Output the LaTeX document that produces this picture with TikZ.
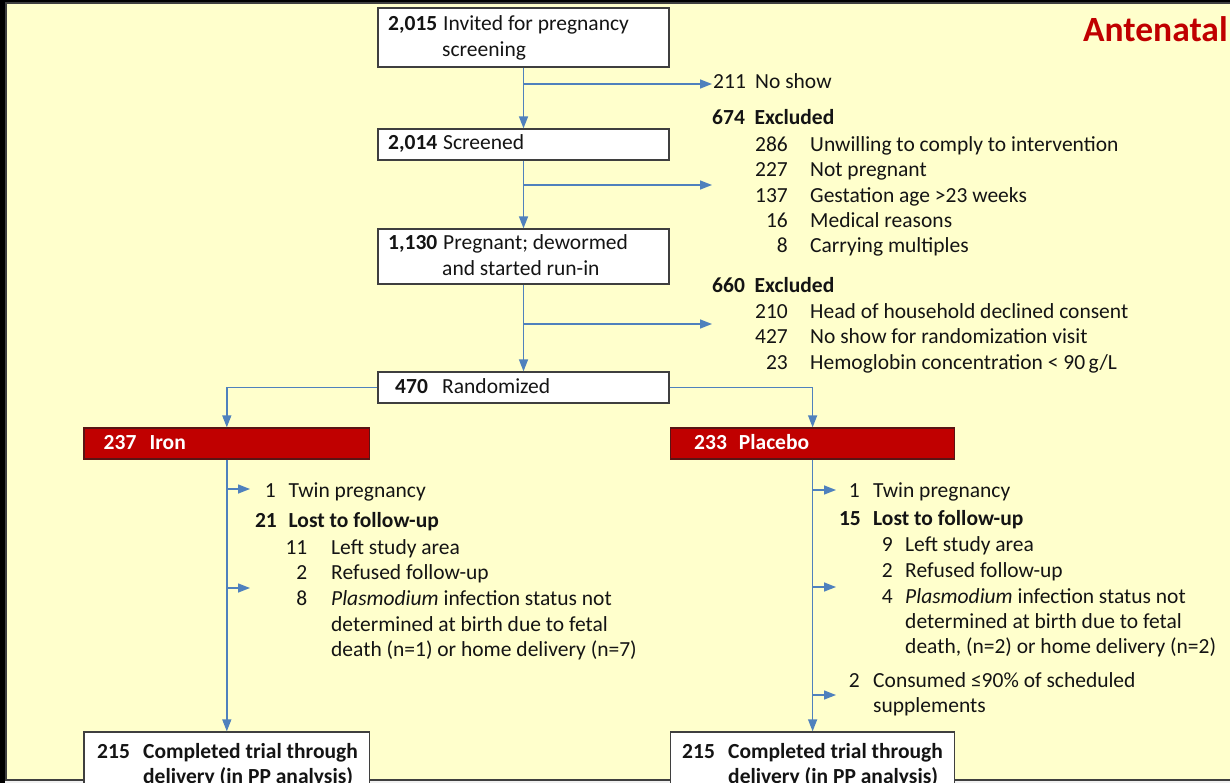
\documentclass[tikz,border=0pt]{standalone}
\usepackage{fontspec}
\setmainfont{Carlito}
\usetikzlibrary{arrows.meta}
\definecolor{panel}{HTML}{FFFFCC}
\definecolor{framecol}{HTML}{3F3F3F}
\definecolor{arrblue}{HTML}{4F81BD}
\definecolor{darkred}{HTML}{C00000}
\definecolor{redframe}{HTML}{5A1414}
\definecolor{txtcol}{HTML}{141414}
\begin{document}
\begin{tikzpicture}[x=1pt,y=-1pt,
  arr/.style={draw=arrblue, line width=1.4pt, -{Triangle[length=12pt,width=9pt]}},
  wbox/.style={draw=framecol, line width=1.3pt, fill=white, inner sep=0pt},
  rbox/.style={draw=redframe, line width=1.3pt, fill=darkred, inner sep=0pt},
  txt/.style={inner sep=0pt, anchor=base west, text=txtcol, font=\fontsize{21.5}{25.6}\selectfont},
  txtr/.style={txt, anchor=base east},
  wtxt/.style={txt, text=white, font=\fontsize{21.5}{25.6}\selectfont\bfseries},
  ]
\useasboundingbox (0,0) rectangle (1230,783);
\clip (0,0) rectangle (1230,783);
% panel background
\fill[gray!12] (0,0) rectangle (1230,783);
\fill[black] (0,0) rectangle (1230,2);
\fill[black] (0,0) rectangle (5,783);
\draw[framecol, line width=2pt, fill=panel] (6,3) rectangle (1240,780);

% title
\node[txt, text=darkred, font=\fontsize{35.5}{40}\selectfont\bfseries] (title) at (1083,42) {Antenatal};

% main column boxes
\node[wbox, minimum width=291pt, minimum height=59pt] (b1) at (523.5,37.5) {};
\node[wbox, minimum width=291pt, minimum height=31pt] (b2) at (523.5,144.5) {};
\node[wbox, minimum width=291pt, minimum height=55pt] (b3) at (523.5,256.5) {};
\node[wbox, minimum width=291pt, minimum height=31pt] (b4) at (523.5,387.5) {};
\node[rbox, minimum width=285.6pt, minimum height=31pt] (iron) at (226.8,443.5) {};
\node[rbox, minimum width=284pt, minimum height=31pt] (plac) at (812.6,443.5) {};
\node[wbox, minimum width=285.6pt, minimum height=80pt] (endI) at (226.8,772) {};
\node[wbox, minimum width=284pt, minimum height=80pt] (endP) at (812.6,772) {};

% main arrows
\draw[arr] (b1) -- (b2);
\draw[arr] (b2) -- (b3);
\draw[arr] (b3) -- (b4);
\draw[arr] (b4.west) -| (iron.north);
\draw[arr] (b4.east) -| (plac.north);
\draw[arr] (iron) -- (endI);
\draw[arr] (plac) -- (endP);

% branch arrows
\coordinate (s1) at (523.5,84);  \coordinate (e1) at (712,84);
\coordinate (s2) at (523.5,185); \coordinate (e2) at (712,185);
\coordinate (s3) at (523.5,324); \coordinate (e3) at (712,324);
\draw[arr] (s1) -- (e1);
\draw[arr] (s2) -- (e2);
\draw[arr] (s3) -- (e3);
\coordinate (i1) at (226.8,489); \coordinate (ie1) at (250,489);
\coordinate (i2) at (226.8,588); \coordinate (ie2) at (250,588);
\draw[arr] (i1) -- (ie1);
\draw[arr] (i2) -- (ie2);
\coordinate (p1) at (812.6,490); \coordinate (pe1) at (836,490);
\coordinate (p2) at (812.6,587); \coordinate (pe2) at (836,587);
\coordinate (p3) at (812.6,695); \coordinate (pe3) at (836,695);
\draw[arr] (p1) -- (pe1);
\draw[arr] (p2) -- (pe2);
\draw[arr] (p3) -- (pe3);

% box texts
\node[txt] (n1) at (388,31) {\bfseries 2,015};
\node[txt] (n1a) at (443,31) {Invited for pregnancy};
\node[txt] (n1b) at (442,57) {screening};
\node[txt] (n2) at (388,150) {\bfseries 2,014};
\node[txt] (n2a) at (443,150) {Screened};
\node[txt] (n3) at (388,250) {\bfseries 1,130};
\node[txt] (n3a) at (443,250) {Pregnant; dewormed};
\node[txt] (n3b) at (442,276) {and started run-in};
\node[txt] (n4) at (395,393) {\bfseries 470};
\node[txt] (n4a) at (442,393) {Randomized};
\node[wtxt] (ni) at (103.5,449) {237};
\node[wtxt] (nia) at (149.4,449) {Iron};
\node[wtxt] (np) at (694,449) {233};
\node[wtxt] (npa) at (738.7,449) {Placebo};
\node[txt] (nei) at (97,758) {\bfseries 215};
\node[txt] (neia) at (143,758) {\bfseries Completed trial through};
\node[txt] (neib) at (143,783) {\bfseries delivery (in PP analysis)};
\node[txt] (nep) at (682,758) {\bfseries 215};
\node[txt] (nepa) at (728,758) {\bfseries Completed trial through};
\node[txt] (nepb) at (728,783) {\bfseries delivery (in PP analysis)};

% right column exclusions
\node[txt] (r1) at (713,89) {211};
\node[txt] (r1a) at (755,89) {No show};
\node[txt] (r2) at (712,125) {\bfseries 674};
\node[txt] (r2a) at (754.5,125) {\bfseries Excluded};
\node[txtr] (r3) at (788,152) {286};
\node[txt] (r3a) at (810,152) {Unwilling to comply to intervention};
\node[txtr] (r4) at (788,177) {227};
\node[txt] (r4a) at (810,177) {Not pregnant};
\node[txtr] (r5) at (788,203) {137};
\node[txt] (r5a) at (810,203) {Gestation age >23 weeks};
\node[txtr] (r6) at (788,228) {16};
\node[txt] (r6a) at (810,228) {Medical reasons};
\node[txtr] (r7) at (788,253) {8};
\node[txt] (r7a) at (810,253) {Carrying multiples};
\node[txt] (r8) at (712,292) {\bfseries 660};
\node[txt] (r8a) at (754.5,292) {\bfseries Excluded};
\node[txtr] (r9) at (788,318) {210};
\node[txt] (r9a) at (810,318) {Head of household declined consent};
\node[txtr] (r10) at (788,343) {427};
\node[txt] (r10a) at (810,343) {No show for randomization visit};
\node[txtr] (r11) at (788,369) {23};
\node[txt] (r11a) at (810,369) {Hemoglobin concentration < 90\,g/L};

% iron arm
\node[txtr] (a1) at (276,497) {1};
\node[txt] (a1a) at (288.5,497) {Twin pregnancy};
\node[txtr] (a2) at (277,527) {\bfseries 21};
\node[txt] (a2a) at (288.5,527) {\bfseries Lost to follow-up};
\node[txtr] (a3) at (307.5,554) {11};
\node[txt] (a3a) at (331,554) {Left study area};
\node[txtr] (a4) at (307.5,579) {2};
\node[txt] (a4a) at (331,579) {Refused follow-up};
\node[txtr] (a5) at (307.5,605) {8};
\node[txt] (a5a) at (331,605) {\itshape Plasmodium\upshape{} infection status not};
\node[txt] (a5b) at (331,631) {determined at birth due to fetal};
\node[txt] (a5c) at (331,656) {death (n=1) or home delivery (n=7)};

% placebo arm
\node[txtr] (c1) at (860,497) {1};
\node[txt] (c1a) at (873,497) {Twin pregnancy};
\node[txtr] (c2) at (861,525) {\bfseries 15};
\node[txt] (c2a) at (873,525) {\bfseries Lost to follow-up};
\node[txtr] (c3) at (893,551) {9};
\node[txt] (c3a) at (905,551) {Left study area};
\node[txtr] (c4) at (893,577) {2};
\node[txt] (c4a) at (905,577) {Refused follow-up};
\node[txtr] (c5) at (893,603) {4};
\node[txt] (c5a) at (905,603) {\itshape Plasmodium\upshape{} infection status not};
\node[txt] (c5b) at (905,628) {determined at birth due to fetal};
\node[txt] (c5c) at (905,653) {death, (n=2) or home delivery (n=2)};
\node[txtr] (c6) at (860,687) {2};
\node[txt] (c6a) at (873,687) {Consumed ≤90\% of scheduled};
\node[txt] (c6b) at (873,712) {supplements};
\end{tikzpicture}
\end{document}
